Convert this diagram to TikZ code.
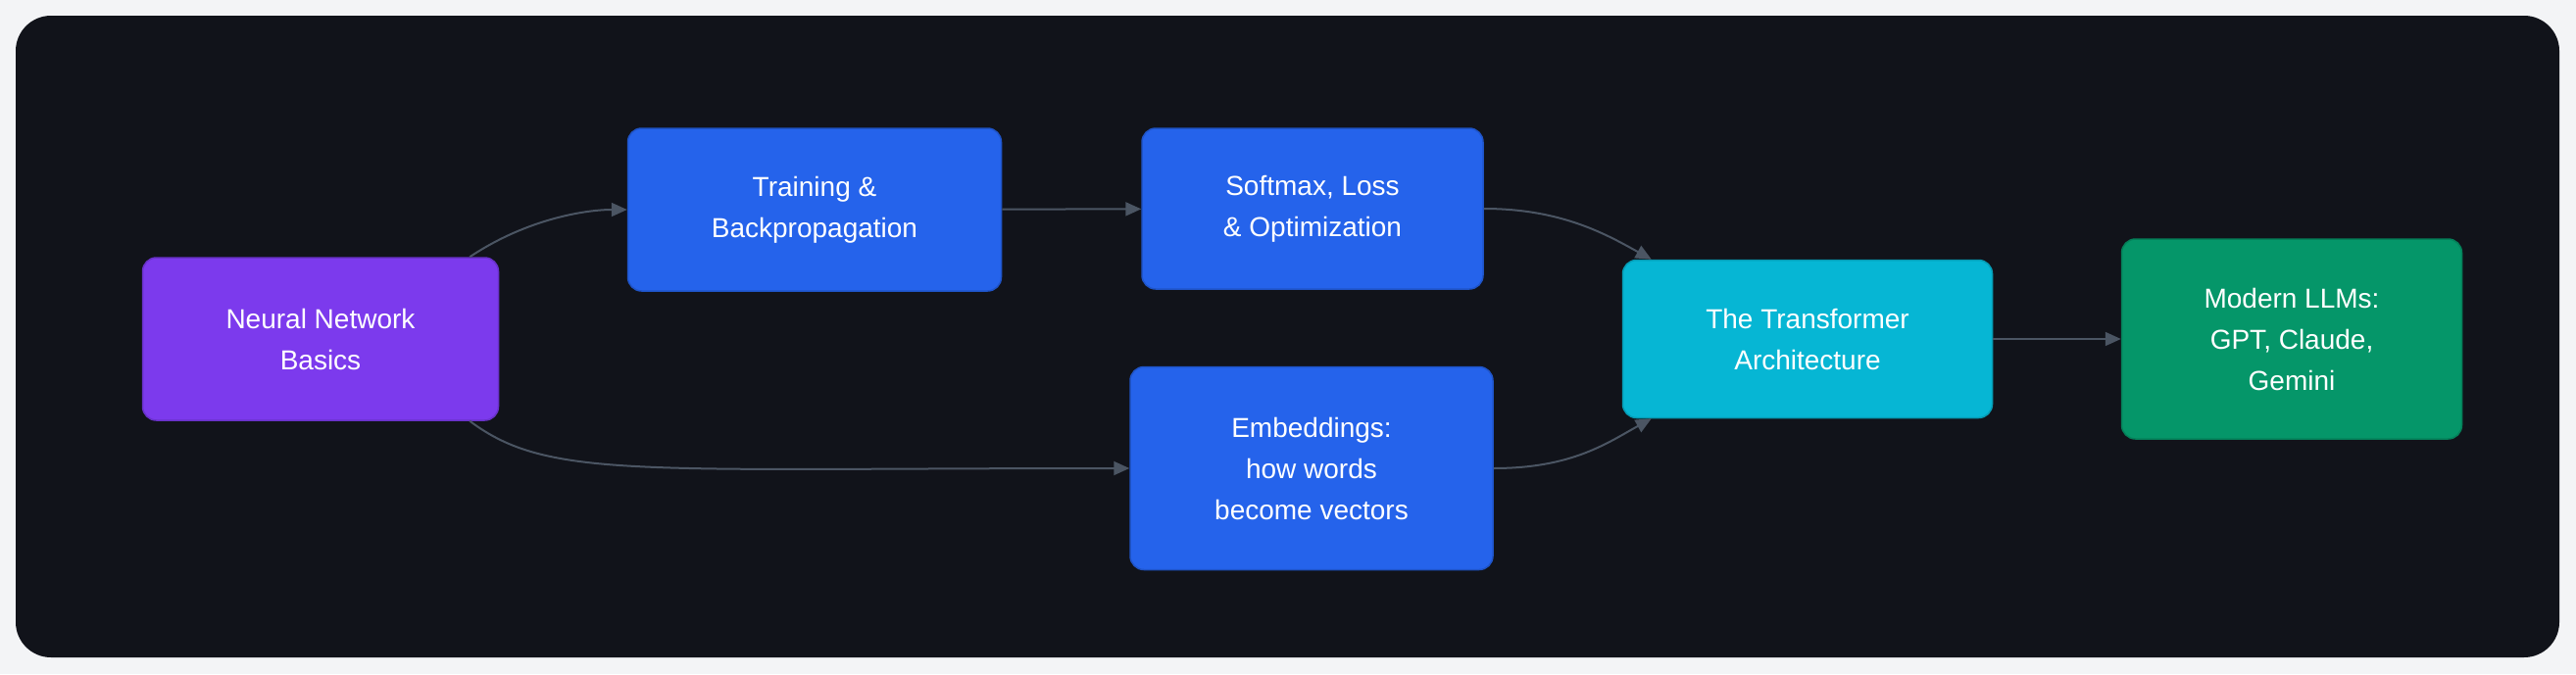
\documentclass[tikz,border=0pt]{standalone}
\usepackage{fontspec}
\setmainfont{Liberation Sans}
\usetikzlibrary{arrows.meta}
\definecolor{pagebg}{HTML}{F3F4F6}
\definecolor{panel}{HTML}{11131A}
\definecolor{nnviolet}{HTML}{7C3AED}
\definecolor{stepblue}{HTML}{2563EB}
\definecolor{trcyan}{HTML}{06B6D4}
\definecolor{llmgreen}{HTML}{059669}
\definecolor{edge}{HTML}{4B5563}

\begin{document}
\begin{tikzpicture}[
  x=1pt, y=-1pt,
  box/.style={draw, rounded corners=14pt, line width=1.5pt, align=center, text=white,
    font=\fontsize{28}{42}\selectfont, inner sep=0pt},
  link/.style={draw=edge, line width=2pt, -{Triangle[length=16pt,width=14pt]}}
]
\fill[pagebg] (0,0) rectangle (2628,688);
\useasboundingbox (0,0) rectangle (2628,688);
\fill[panel, rounded corners=36pt] (16,16) rectangle (2611,671);
\node[box, fill=nnviolet, draw=nnviolet!85!black, minimum width=363pt, minimum height=166pt] (nn) at (327,346) {Neural Network\\Basics};
\node[box, fill=stepblue, draw=stepblue!85!black, minimum width=381pt, minimum height=166pt] (train) at (831,214) {Training \&\\Backpropagation};
\node[box, fill=stepblue, draw=stepblue!85!black, minimum width=348pt, minimum height=164pt] (soft) at (1339,213) {Softmax, Loss\\\& Optimization};
\node[box, fill=stepblue, draw=stepblue!85!black, minimum width=370pt, minimum height=207pt] (emb) at (1338,478) {Embeddings:\\how words\\become vectors};
\node[box, fill=trcyan, draw=trcyan!85!black, minimum width=377pt, minimum height=161pt] (trans) at (1844,346) {The Transformer\\Architecture};
\node[box, fill=llmgreen, draw=llmgreen!85!black, minimum width=347pt, minimum height=204pt] (llm) at (2338,346) {Modern LLMs:\\GPT, Claude,\\Gemini};
\draw[link] ([xshift=-30pt]nn.north east) .. controls +(60,-40) and (600,214) .. (train.west);
\draw[link] ([xshift=-30pt]nn.south east) .. controls +(80,60) and (650,478) .. (emb.west);
\draw[link] (train) -- (soft);
\draw[link] (soft.east) .. controls +(80,0) and (1640,240) .. ([xshift=30pt]trans.north west);
\draw[link] (emb.east) .. controls +(80,0) and (1640,452) .. ([xshift=30pt]trans.south west);
\draw[link] (trans) -- (llm);
\end{tikzpicture}
\end{document}
